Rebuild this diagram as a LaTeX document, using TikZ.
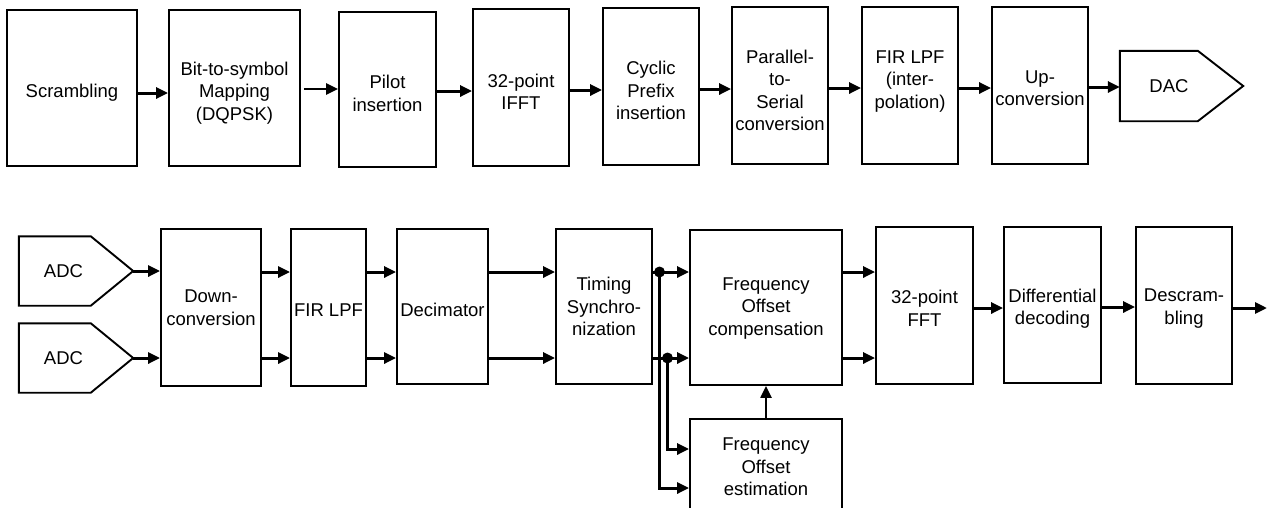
\documentclass[tikz,border=0pt]{standalone}
\usepackage{fontspec}
\setmainfont{Liberation Sans}
\usetikzlibrary{arrows.meta}
\tikzset{
  box/.style={draw, line width=1.9pt, rectangle, inner sep=0pt},
  outline/.style={draw, line width=1.9pt, line join=miter},
  txt/.style={align=center, font=\fontsize{18.5}{22.5}\selectfont, inner sep=0pt},
  arr/.style={line width=3pt, -{Triangle[length=12pt,width=11pt]}},
  thinarr/.style={line width=2.4pt, -{Triangle[length=12pt,width=11pt]}},
  dot/.style={circle, fill=black, inner sep=0pt, minimum size=11pt}
}
\newcommand\blk[7]{\node[box, minimum width=#4pt, minimum height=#5pt,
  label={[txt,yshift=#7pt]center:{#6}}] (#1) at (#2,#3) {};}
\begin{document}
\begin{tikzpicture}[x=1pt,y=-1pt]
\useasboundingbox (0,0) rectangle (1269,507);
% ---- top row (transmitter)
\blk{scr}{72}{88}{130}{156}{Scrambling}{-5}
\blk{bit}{234.5}{88}{131}{156}{Bit-to-symbol\\Mapping\\(DQPSK)}{-5}
\blk{pil}{387.5}{89.5}{97}{155}{Pilot\\insertion}{-4}
\blk{ifft}{521}{87.5}{96}{157}{32-point\\IFFT}{-4.5}
\blk{cyc}{651}{86.5}{96}{157}{Cyclic\\Prefix\\insertion}{-4}
\blk{par}{780}{85.5}{96}{157}{Parallel-\\to-\\Serial\\conversion}{-5}
\blk{firi}{910}{85.5}{96}{157}{FIR LPF\\(inter-\\polation)}{4}
\blk{up}{1040}{85.5}{96}{157}{Up-\\conversion}{-2.5}
\node[minimum width=123pt, minimum height=70pt, inner sep=0pt,
  label={[txt,xshift=-12.5pt]center:DAC}] (dac) at (1181.5,86) {};
\draw[outline] (dac.east) -- ([xshift=78pt]dac.south west) -- (dac.south west)
  -- (dac.north west) -- ([xshift=78pt]dac.north west) -- cycle;

\draw[arr] (scr.east |- 0,93) -- (bit.west |- 0,93);
\draw[thinarr, shorten <=3pt] (bit.east |- 0,89) -- (pil.west |- 0,89);
\draw[arr] (pil.east |- 0,91) -- (ifft.west |- 0,91);
\draw[arr] (ifft.east |- 0,90) -- (cyc.west |- 0,90);
\draw[arr] (cyc.east |- 0,89) -- (par.west |- 0,89);
\draw[arr] (par.east |- 0,88) -- (firi.west |- 0,88);
\draw[arr] (firi.east |- 0,88) -- (up.west |- 0,88);
\draw[arr] (up.east |- 0,87) -- (dac.west |- 0,87);

% ---- bottom row (receiver)
\node[minimum width=114pt, minimum height=69pt, inner sep=0pt,
  label={[txt,xshift=-12.5pt]center:ADC}] (adc1) at (76,271) {};
\draw[outline] (adc1.east) -- ([xshift=72pt]adc1.south west) -- (adc1.south west)
  -- (adc1.north west) -- ([xshift=72pt]adc1.north west) -- cycle;
\node[minimum width=114pt, minimum height=69pt, inner sep=0pt,
  label={[txt,xshift=-12.5pt]center:ADC}] (adc2) at (76,358) {};
\draw[outline] (adc2.east) -- ([xshift=72pt]adc2.south west) -- (adc2.south west)
  -- (adc2.north west) -- ([xshift=72pt]adc2.north west) -- cycle;

\blk{down}{211}{307.5}{100}{157}{Down-\\conversion}{0}
\blk{fir}{328.5}{307.5}{75}{157}{FIR LPF}{-2.5}
\blk{dec}{442.5}{306.5}{91}{155}{Decimator}{-3.5}
\blk{tim}{604}{306.5}{96}{155}{Timing\\Synchro-\\nization}{0}
\blk{comp}{766}{307.5}{152}{155}{Frequency\\Offset\\compensation}{-1}
\blk{est}{766}{467}{152}{96}{Frequency\\Offset\\estimation}{0}
\blk{fft}{924.5}{305.5}{97}{157}{32-point\\FFT}{-3}
\blk{diff}{1052.5}{305}{97}{156}{Differential\\decoding}{-3.5}
\blk{desc}{1184}{305.5}{96}{157}{Descram-\\bling}{-3}

\draw[arr] (adc1.east) -- (down.west |- adc1.east);
\draw[arr] (adc2.east) -- (down.west |- adc2.east);
\foreach \yy in {272,358}{
  \draw[arr] (down.east |- 0,\yy) -- (fir.west |- 0,\yy);
  \draw[arr] (fir.east |- 0,\yy) -- (dec.west |- 0,\yy);
  \draw[arr] (dec.east |- 0,\yy) -- (tim.west |- 0,\yy);
  \draw[arr] (comp.east |- 0,\yy) -- (fft.west |- 0,\yy);
}
\node[dot] (j1) at (659.5,272) {};
\node[dot] (j2) at (667.5,358) {};
\draw[arr] (tim.east |- j1) -- (comp.west |- j1);
\draw[arr] (tim.east |- j2) -- (comp.west |- j2);
\draw[arr] (j1.center) |- (est.west |- 0,488);
\draw[arr] (j2.center) |- (est.west |- 0,449);
\draw[thinarr] (est.north) -- (comp.south);

\draw[arr] (fft.east |- 0,308) -- (diff.west |- 0,308);
\draw[arr] (diff.east |- 0,307) -- (desc.west |- 0,307);
\coordinate (out) at (1267,308);
\draw[arr] (desc.east |- out) -- (out);
\end{tikzpicture}
\end{document}
